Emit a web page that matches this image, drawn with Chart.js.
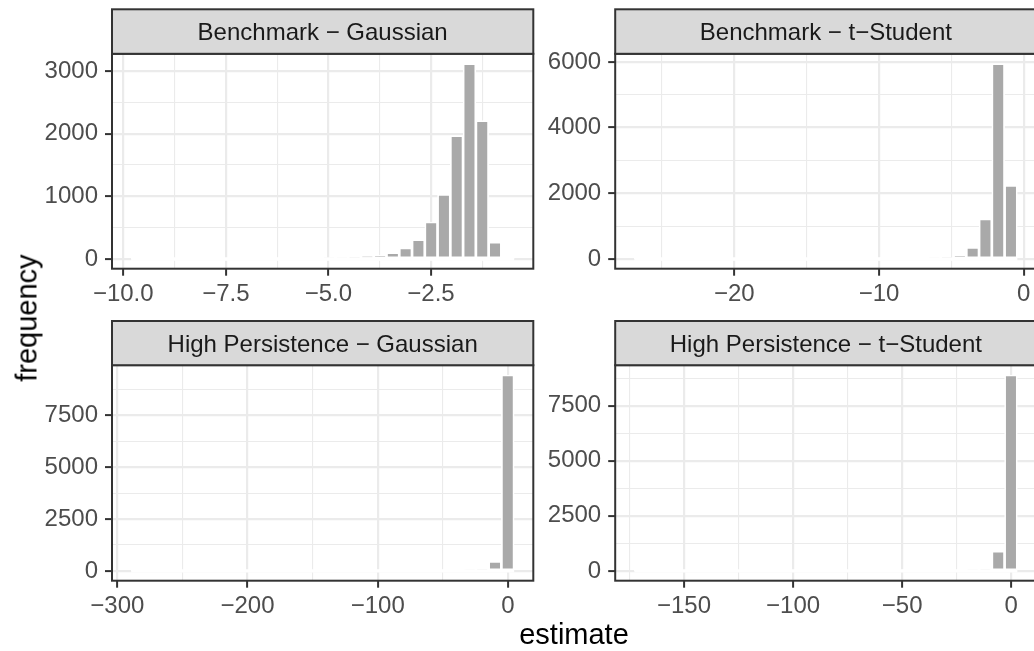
<!DOCTYPE html>
<html>
	<head>
		<meta charset="utf-8">
		<script src="https://cdn.jsdelivr.net/npm/chart.js@4/dist/chart.umd.min.js"></script>
		<style>
			html, body { margin: 0; padding: 0; width: 1034px; height: 651px; overflow: hidden; background: #fff; }
			canvas { position: absolute; }
			.axis-title { position: absolute; font-family: "Liberation Sans", Arial, sans-serif; font-size: 29px; line-height: 29px; color: #000; white-space: nowrap; }
		</style>
	</head>
	<body>
		<canvas id="c0"></canvas>
		<canvas id="c1"></canvas>
		<canvas id="c2"></canvas>
		<canvas id="c3"></canvas>
		<div class="axis-title" style="left:574px; top:620px; transform:translateX(-50%);">estimate</div>
		<div class="axis-title" style="left:27px; top:318px; transform:translate(-50%,-50%) rotate(-90deg);">frequency</div>
		<script>
			// facet titles
			const facetTitles = ["Benchmark − Gaussian", "Benchmark − t−Student", "High Persistence − Gaussian", "High Persistence − t−Student"];

			// histogram bins: 30 per facet, lower edge and width
			const binStart = [-9.808, -26.91, -289.37, -172.75];
			const binWidth = [0.3112, 0.8823, 9.803, 5.852];

			// counts per bin, left to right
			const countsBenchGauss = [1,0,0,0,1,0,0,0,0,0, 1,1,1,2,3,6,10,20,45,60, 100,175,310,590,1030,1970,3120,2210,270,3];
			const countsBenchT     = [1,0,0,0,0,0,0,0,0,0, 0,0,0,0,0,0,1,0,1,1, 2,3,6,15,40,100,350,1220,5950,2240];
			const countsHighGauss  = [1,0,0,0,0,0,0,0,0,0, 0,0,0,0,0,0,0,0,0,1, 0,1,1,2,3,6,15,50,460,9460];
			const countsHighT      = [1,0,0,0,0,0,0,0,0,0, 0,0,0,0,0,0,0,1,0,1, 1,1,2,2,3,6,15,50,900,8890];
			const counts = [countsBenchGauss, countsBenchT, countsHighGauss, countsHighT];

			// axis breaks (labelled) and minor breaks
			const xBreaks = [[-10, -7.5, -5, -2.5], [-20, -10, 0], [-300, -200, -100, 0], [-150, -100, -50, 0]];
			const xMinor  = [[-8.75, -6.25, -3.75, -1.25], [-25, -15, -5], [-250, -150, -50], [-175, -125, -75, -25]];
			const xDigits = [1, 0, 0, 0];
			const yBreaks = [[0, 1000, 2000, 3000], [0, 2000, 4000, 6000], [0, 2500, 5000, 7500], [0, 2500, 5000, 7500]];
			const yMinor  = [[500, 1500, 2500], [1000, 3000, 5000], [1250, 3750, 6250, 8750], [1250, 3750, 6250, 8750]];

			// panel boxes on the page
			const boxes = [
				{left: 112,   right: 533.3,  top: 53.8,  bottom: 268.7, stripTop: 9.3},
				{left: 615.2, right: 1036.5, top: 53.8,  bottom: 268.7, stripTop: 9.3},
				{left: 112,   right: 533.3,  top: 365.2, bottom: 580.7, stripTop: 321},
				{left: 615.2, right: 1036.5, top: 365.2, bottom: 580.7, stripTop: 321}
			];

			const FONT = '"Liberation Sans", Arial, sans-serif';
			const YW = 100, XH = 50;

			function fmt(v, d) {
				return (v < 0 ? "\u2212" : "") + Math.abs(v).toFixed(d);
			}

			// strip, panel border and the white bin outline along zero
			const facetFrame = {
				id: "facetFrame",
				afterDatasetsDraw(chart, args, opts) {
					const ctx = chart.ctx, x = chart.scales.x, y = chart.scales.y;
					ctx.save();
					ctx.strokeStyle = "#fff";
					ctx.lineWidth = 3.4;
					ctx.beginPath();
					ctx.moveTo(x.getPixelForValue(opts.lo), y.getPixelForValue(0));
					ctx.lineTo(x.getPixelForValue(opts.hi), y.getPixelForValue(0));
					ctx.stroke();
					ctx.restore();
				},
				afterDraw(chart, args, opts) {
					const ctx = chart.ctx, a = chart.chartArea;
					ctx.save();
					ctx.lineWidth = 2;
					ctx.strokeStyle = "#333333";
					ctx.strokeRect(a.left, a.top, a.right - a.left, a.bottom - a.top);
					ctx.fillStyle = "#D9D9D9";
					ctx.fillRect(a.left, opts.stripTop, a.right - a.left, a.top - opts.stripTop);
					ctx.strokeRect(a.left, opts.stripTop, a.right - a.left, a.top - opts.stripTop);
					ctx.fillStyle = "#1A1A1A";
					ctx.font = "24px " + FONT;
					ctx.textAlign = "center";
					ctx.textBaseline = "alphabetic";
					ctx.fillText(opts.text, (a.left + a.right) / 2, (opts.stripTop + a.top) / 2 + 8.5);
					ctx.restore();
				}
			};

			boxes.forEach(function(b, i) {
				const canvas = document.getElementById("c" + i);
				const cl = Math.floor(b.left) - YW;
				const ct = Math.floor(b.stripTop) - 4;
				const cw = Math.ceil(b.right) + 4 - cl;
				const ch = Math.ceil(b.bottom) + XH - ct;
				canvas.width = cw;
				canvas.height = ch;
				canvas.style.left = cl + "px";
				canvas.style.top = ct + "px";

				const w = binWidth[i], lo = binStart[i], hi = lo + 30 * w;
				const data = counts[i].map((c, k) => ({x: lo + w * (k + 0.5), y: c}));
				const ymax = Math.max.apply(null, counts[i]);

				const xTicks = xBreaks[i].concat(xMinor[i]).sort((p, q) => p - q);
				const yTicks = yBreaks[i].concat(yMinor[i]).sort((p, q) => p - q);
				const xMajor = v => xBreaks[i].some(t => Math.abs(t - v) < 1e-9);
				const yMajor = v => yBreaks[i].some(t => Math.abs(t - v) < 1e-9);

				const tickFont = {family: FONT, size: 24};

				new Chart(canvas.getContext("2d"), {
					type: "bar",
					data: {
						datasets: [{
							data: data,
							backgroundColor: "#A9A9A9",
							borderColor: "#ffffff",
							borderWidth: 1.7,
							borderSkipped: false,
							barPercentage: 1,
							categoryPercentage: 1
						}]
					},
					options: {
						responsive: false,
						animation: false,
						events: [],
						layout: {
							padding: {top: b.top - ct, right: cw - (b.right - cl), left: 0, bottom: 0}
						},
						plugins: {
							legend: {display: false},
							tooltip: {enabled: false},
							facetFrame: {text: facetTitles[i], stripTop: b.stripTop - ct, lo: lo, hi: hi}
						},
						scales: {
							x: {
								type: "linear",
								offset: false,
								min: lo - 1.5 * w,
								max: hi + 1.5 * w,
								afterBuildTicks: s => { s.ticks = xTicks.map(v => ({value: v})); },
								afterFit: s => { s.height = ch - (b.bottom - ct); },
								border: {display: false},
								grid: {
									offset: false,
									color: "#EBEBEB",
									lineWidth: c => xMajor(c.tick.value) ? 2.2 : 1.1,
									tickColor: c => xMajor(c.tick.value) ? "#333333" : "rgba(0,0,0,0)",
									tickWidth: 2,
									tickLength: 7
								},
								ticks: {
									autoSkip: false,
									maxRotation: 0,
									padding: 4,
									color: "#4D4D4D",
									font: tickFont,
									callback: v => xMajor(v) ? fmt(v, xDigits[i]) : ""
								}
							},
							y: {
								type: "linear",
								min: -0.05 * ymax,
								max: 1.05 * ymax,
								afterBuildTicks: s => { s.ticks = yTicks.map(v => ({value: v})); },
								afterFit: s => { s.width = b.left - cl; },
								border: {display: false},
								grid: {
									color: "#EBEBEB",
									lineWidth: c => yMajor(c.tick.value) ? 2.2 : 1.1,
									tickColor: c => yMajor(c.tick.value) ? "#333333" : "rgba(0,0,0,0)",
									tickWidth: 2,
									tickLength: 7
								},
								ticks: {
									autoSkip: false,
									padding: 7,
									color: "#4D4D4D",
									font: tickFont,
									callback: v => yMajor(v) ? String(v) : ""
								}
							}
						}
					},
					plugins: [facetFrame]
				});
			});
		</script>
	</body>
</html>
